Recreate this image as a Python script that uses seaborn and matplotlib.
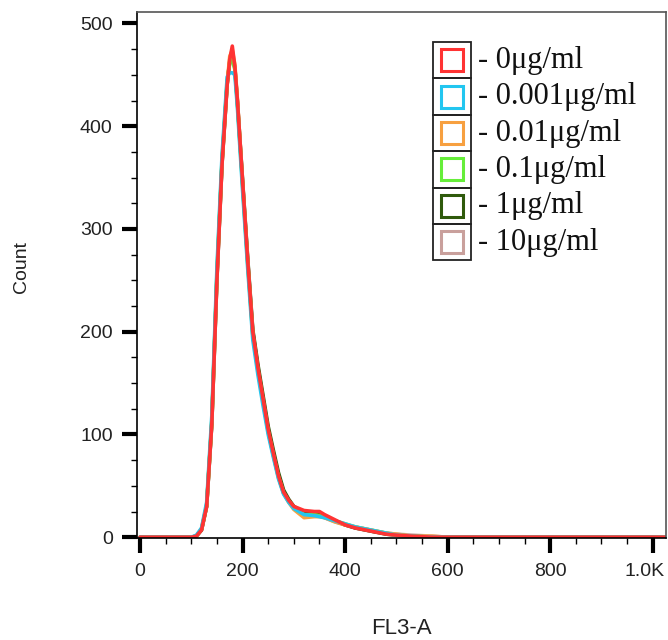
import pandas as pd
import seaborn as sns
import matplotlib
matplotlib.use('Agg')
import matplotlib.pyplot as plt
import matplotlib.ticker as mticker
import matplotlib.transforms as mtransforms
from matplotlib.patches import Rectangle

sns.set_style('ticks')
plt.rcParams['font.family'] = ['Liberation Sans', 'DejaVu Sans']

### Data
fl3 = [0, 100, 110, 120, 130, 140, 150, 160, 170, 175, 180, 185, 190, 200, 210,
       220, 230, 240, 250, 260, 270, 280, 290, 300, 320, 340, 350, 360, 380, 400,
       420, 440, 460, 480, 500, 530, 570, 600, 1024]
c_0 = [0, 0, 1, 7, 30, 110, 250, 363, 440, 465, 478, 458, 425, 347, 270,
       200, 165, 135, 105, 82, 60, 44, 36, 30, 26, 25, 25, 22, 17, 12,
       9, 7, 5, 3, 2, 1, 0, 0, 0]
c_0001 = [0, 0, 2, 9, 34, 118, 262, 372, 448, 452, 452, 450, 418, 338, 262,
          192, 158, 128, 100, 78, 57, 42, 34, 28, 22, 21, 20, 19, 16, 13,
          10, 8, 6, 4, 2, 1, 0, 0, 0]
c_001 = [0, 0, 1, 8, 31, 112, 254, 366, 442, 468, 474, 460, 426, 345, 268,
         197, 163, 133, 103, 80, 58, 43, 34, 27, 19, 20, 20, 19, 15, 12,
         10, 8, 6, 4, 3, 1, 1, 0, 0]
c_01 = [0, 0, 1, 8, 31, 113, 256, 367, 444, 462, 466, 455, 422, 343, 267,
        197, 162, 132, 103, 80, 59, 43, 35, 29, 22, 22, 21, 20, 16, 13,
        10, 8, 6, 4, 2, 1, 0, 0, 0]
c_1 = [0, 0, 1, 7, 30, 110, 251, 364, 441, 463, 470, 457, 424, 348, 272,
       202, 168, 138, 108, 85, 63, 46, 37, 30, 24, 23, 22, 20, 16, 12,
       9, 7, 5, 3, 2, 1, 0, 0, 0]
c_10 = [0, 0, 1, 7, 30, 111, 252, 364, 441, 462, 468, 456, 423, 346, 270,
        200, 165, 134, 104, 81, 59, 43, 35, 29, 23, 22, 21, 19, 15, 12,
        9, 7, 5, 4, 3, 2, 1, 0, 0]

labels = ['0\u03bcg/ml', '0.001\u03bcg/ml', '0.01\u03bcg/ml', '0.1\u03bcg/ml', '1\u03bcg/ml', '10\u03bcg/ml']
series = [c_0, c_0001, c_001, c_01, c_1, c_10]
colors = ['#ff3333', '#22c6f0', '#f7a040', '#66ee3a', '#2f5a0c', '#c9a09c']

xticks = [0, 200, 400, 600, 800, 1000]
xticklabels = ['0', '200', '400', '600', '800', '1.0K']
yticks = [0, 100, 200, 300, 400, 500]

frames = []
for lab, vals in zip(labels, series):
    assert len(vals) == len(fl3)
    frames.append(pd.DataFrame({'FL3-A': fl3, 'Count': vals, 'conc': lab}))
df = pd.concat(frames, ignore_index=True)

### Canvas
fig = plt.figure(figsize=(6.68, 6.4), dpi=100)
ax = fig.add_axes([0.205, 0.159, 0.792, 0.822])

sns.lineplot(data=df, x='FL3-A', y='Count', hue='conc',
             hue_order=labels[::-1], palette=dict(zip(labels, colors)),
             linewidth=2.6, errorbar=None, legend=False, ax=ax)

ax.set_xlim(-6, 1026)
ax.set_ylim(-1, 511)

### Spines
for m in ['top', 'right']:
    ax.spines[m].set_linewidth(1.2)
    ax.spines[m].set_color('#555555')
for m in ['left', 'bottom']:
    ax.spines[m].set_linewidth(1.2)
    ax.spines[m].set_color('black')

### Ticks
ax.set_xticks(xticks)
ax.set_xticklabels(xticklabels)
ax.set_yticks(yticks)
ax.xaxis.set_minor_locator(mticker.MultipleLocator(50))
ax.yaxis.set_minor_locator(mticker.MultipleLocator(25))
ax.tick_params(which='major', length=10.5, width=3, color='black',
               labelsize=14, labelcolor='#222222', pad=7)
ax.tick_params(which='minor', length=4.5, width=1, color='black')

# keep the last x label inside the canvas
last = ax.get_xticklabels()[-1]
last.set_transform(last.get_transform() + mtransforms.ScaledTranslation(-8 / 100, 0, fig.dpi_scale_trans))

### Axis labels
ax.set_xlabel('FL3-A', fontsize=16, color='#222222')
ax.set_ylabel('Count', fontsize=14, color='#222222')
ax.xaxis.set_label_coords(0.5, -0.152)
ax.yaxis.set_label_coords(-0.202, 0.515)

### Legend: boxed cells with hollow squares
x0, x1 = 0.5595, 0.6314
top, cell = 0.943, 0.0691
for i, (lab, col) in enumerate(zip(labels, colors)):
    yb = top - (i + 1) * cell
    ax.add_patch(Rectangle((x0, yb), x1 - x0, cell, transform=ax.transAxes,
                           fill=False, edgecolor='#222222', linewidth=1.3, zorder=5))
    sw, sh = 0.0416, 0.0418
    cx, cy = (x0 + x1) / 2, yb + cell / 2
    ax.add_patch(Rectangle((cx - sw / 2, cy - sh / 2), sw, sh, transform=ax.transAxes,
                           fill=False, edgecolor=col, linewidth=2.2, zorder=6))
    ax.text(0.6446, cy, '- ' + lab, transform=ax.transAxes, va='center', ha='left',
            fontsize=22, family=['Liberation Serif', 'DejaVu Serif'], color='#111111')

fig.savefig('out.png', dpi=100)
